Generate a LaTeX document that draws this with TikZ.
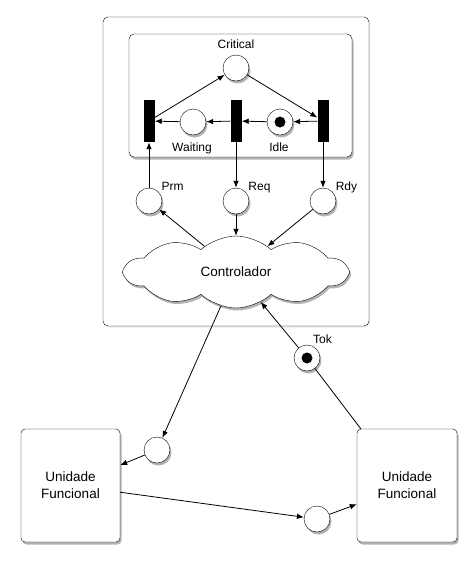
\documentclass[tikz,border=0pt]{standalone}
\usepackage{fontspec}
\setmainfont{Liberation Sans}
\usetikzlibrary{arrows.meta,shapes.symbols,shadows}

\tikzset{
  shade/.style={drop shadow={shadow xshift=1.5pt,shadow yshift=-2.5pt,opacity=0.3,fill=black}},
  place/.style={circle,draw,fill=white,minimum size=26pt,inner sep=0pt,shade},
  trans/.style={rectangle,fill=black,minimum width=11pt,minimum height=42pt,inner sep=0pt},
  frame/.style={rectangle,draw,rounded corners=5pt,fill=white,inner sep=0pt},
  unit/.style={rectangle,draw,rounded corners=4pt,fill=white,minimum width=99pt,minimum height=113pt,
    align=center,font=\fontsize{13.5}{16.7}\selectfont,shade},
  arc/.style={-{Latex[length=7pt,width=5.5pt]},line width=0.8pt},
  lbl/.style={anchor=base,inner sep=0pt,font=\fontsize{12}{14}\selectfont},
}

\begin{document}
\begin{tikzpicture}[x=1pt,y=-1pt]
\useasboundingbox (0,0) rectangle (476,566);
% frames
\node[frame,minimum width=266pt,minimum height=309pt,drop shadow={shadow xshift=1pt,shadow yshift=-1.5pt,opacity=0.15}] (ctl) at (236,171.5) {};
\node[frame,minimum width=223pt,minimum height=123pt,shade] (mutex) at (240.5,95.5) {};
% petri net inside
\node[place] (crit) at (236,68) {};
\node[place] (wait) at (193,122) {};
\node[place] (idle) at (280,122) {};
\fill (idle) circle (5.5pt);
\node[trans] (tl) at (149,121) {};
\node[trans] (tm) at (236,121) {};
\node[trans] (tr) at (323,121) {};
\node[lbl] (crit-l) at (236,48) {Critical};
\node[lbl] (wait-l) at (192,151) {Waiting};
\node[lbl] (idle-l) at (279,151) {Idle};
\foreach \n/\x/\t in {prm/149/Prm, req/236/Req, rdy/323/Rdy} % interface places
{\node[place] (\n) at (\x,201) {};
 \node[lbl] (\n-l) at (\x+23.5,190) {\t};}
\node[cloud,draw,fill=white,cloud puffs=10,cloud puff arc=85,aspect=3,
  minimum width=222pt,minimum height=72pt,inner sep=0pt,shade,
  font=\fontsize{13.5}{16}\selectfont] (cloud) at (236,272) {Controlador};
% outside
\node[place] (tok) at (307,358) {};
\fill (tok) circle (5.5pt);
\node[lbl] (tok-l) at (322.5,343) {Tok};
\node[place] (pl) at (157,450) {};
\node[place] (pr) at (317,519) {};
\node[unit] (ufl) at (70.5,485.5) {Unidade\\Funcional};
\node[unit,minimum width=100pt] (ufr) at (407,485.5) {Unidade\\Funcional};
% arcs
\draw[arc] (tl) -- (crit);
\draw[arc] (crit) -- (tr);
\draw[arc] (tr) -- (idle);
\draw[arc] (idle) -- (tm);
\draw[arc] (tm) -- (wait);
\draw[arc] (wait) -- (tl);
\draw[arc] (prm) -- (tl);
\draw[arc] (tm) -- (req);
\draw[arc] (tr) -- (rdy);
\draw[arc] (cloud) -- (prm);
\draw[arc] (req) -- (cloud);
\draw[arc] (rdy) -- (cloud);
\draw[arc] (cloud) -- (pl);
\draw[arc] (pl) -- (ufl);
\draw[arc] (ufl) -- (pr);
\draw[arc] (pr) -- (ufr);
\draw[line width=0.8pt] ([xshift=4pt]ufr.north west) -- (tok);
\draw[arc] (tok) -- (cloud);
\end{tikzpicture}
\end{document}
